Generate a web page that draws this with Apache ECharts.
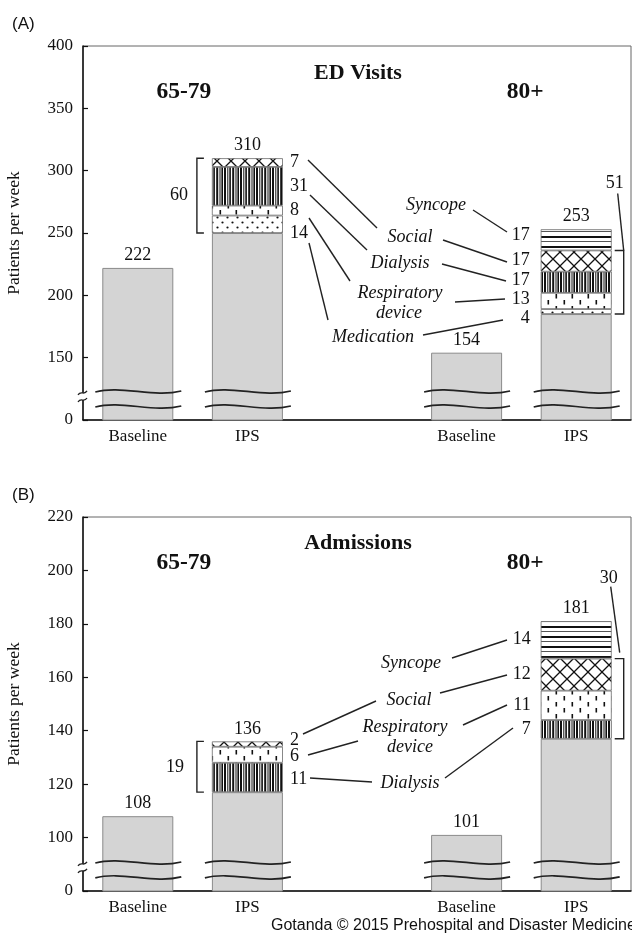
<!DOCTYPE html>
<html>
<head>
<meta charset="utf-8">
<script src="https://cdn.jsdelivr.net/npm/echarts@6/dist/echarts.min.js"></script>
<style>
  html, body { margin: 0; padding: 0; background: #fff; }
  #chart { width: 632px; height: 933px; }
</style>
</head>
<body>
<div id="chart"></div>
<script>
// ---- data -------------------------------------------------------------
const categories = ['Baseline', 'IPS', '', 'Baseline', 'IPS'];
const ageGroups = ['65-79', '80+'];

// (A) ED visits, patients per week
const edBase        = [222, 250, null, 154, 185];
const edMedication  = [null, 14, null, null, 4];
const edRespiratory = [null, 8, null, null, 13];
const edDialysis    = [null, 31, null, null, 17];
const edSocial      = [null, 7, null, null, 17];
const edSyncope     = [null, null, null, null, 17];

// (B) Admissions, patients per week
const admBase        = [108, 117, null, 101, 137];
const admDialysis    = [null, 11, null, null, 7];
const admRespiratory = [null, 6, null, null, 11];
const admSocial      = [null, 2, null, null, 12];
const admSyncope     = [null, null, null, null, 14];

// broken value axes: the lowest tick stands for 0
const edTicks  = { min: 100, max: 400, interval: 50 };
const admTicks = { min: 80, max: 220, interval: 20 };

// ---- styles -----------------------------------------------------------
const SERIF = '"Liberation Serif", "Times New Roman", serif';
const SANS = '"Liberation Sans", Arial, sans-serif';
const INK = '#111';
const BAR_W = 71;

function tile(w, h, draw) {
  const c = document.createElement('canvas');
  c.width = w; c.height = h;
  const ctx = c.getContext('2d');
  ctx.fillStyle = '#fff';
  ctx.fillRect(0, 0, w, h);
  ctx.fillStyle = '#111';
  ctx.strokeStyle = '#111';
  draw(ctx);
  return { image: c, repeat: 'repeat' };
}
const patterns = {
  dots: tile(10, 10, ctx => {
    [[2.5, 2.5], [7.5, 7.5]].forEach(([x, y]) => {
      ctx.beginPath(); ctx.arc(x, y, 1.1, 0, Math.PI * 2); ctx.fill();
    });
  }),
  ticks: tile(16, 12, ctx => {
    ctx.fillRect(3.5, 0, 1.6, 4.5);
    ctx.fillRect(11.5, 6, 1.6, 4.5);
  }),
  stripes: tile(16, 4, ctx => {
    ctx.fillRect(0, 0, 2, 4);
    ctx.fillRect(3.3, 0, 1, 4);
    ctx.fillRect(5.3, 0, 1.6, 4);
    ctx.fillRect(8.2, 0, 2, 4);
    ctx.fillRect(11.5, 0, 1, 4);
    ctx.fillRect(13.4, 0, 1.6, 4);
  }),
  cross: tile(14, 14, ctx => {
    ctx.lineWidth = 1.3;
    ctx.beginPath();
    ctx.moveTo(0, 0); ctx.lineTo(14, 14);
    ctx.moveTo(14, 0); ctx.lineTo(0, 14);
    ctx.stroke();
  }),
  hlines: tile(4, 10, ctx => {
    ctx.fillStyle = '#555';
    ctx.fillRect(0, 1, 4, 1);
    ctx.fillStyle = '#111';
    ctx.fillRect(0, 6, 4, 2);
  })
};

// segment order (bottom to top) and its fill
const edSegments = [
  ['Medication', edMedication, patterns.dots],
  ['Respiratory device', edRespiratory, patterns.ticks],
  ['Dialysis', edDialysis, patterns.stripes],
  ['Social', edSocial, patterns.cross],
  ['Syncope', edSyncope, patterns.hlines]
];
const admSegments = [
  ['Dialysis', admDialysis, patterns.stripes],
  ['Respiratory device', admRespiratory, patterns.ticks],
  ['Social', admSocial, patterns.cross],
  ['Syncope', admSyncope, patterns.hlines]
];
// small vertical nudges so neighbouring numbers do not collide
const nudges = {
  ed: { 'Medication': { 1: 9, 4: 7 }, 'Respiratory device': { 4: -2 }, 'Dialysis': { 4: -2 }, 'Social': { 4: -1 }, 'Syncope': { 4: -5 } },
  adm: { 'Dialysis': { 1: 2 }, 'Respiratory device': { 1: 2 }, 'Social': { 1: -4 }, 'Syncope': { 4: -1 } }
};

function baseSeries(values, idx, stack) {
  return {
    type: 'bar', stack, xAxisIndex: idx, yAxisIndex: idx, barWidth: BAR_W, clip: true,
    itemStyle: { color: '#d4d4d4', borderColor: '#8a8a8a', borderWidth: 1 },
    data: values.map(v => v == null ? '-' : v)
  };
}
function segmentSeries([name, values, fill], idx, stack, nudge) {
  return {
    type: 'bar', name, stack, xAxisIndex: idx, yAxisIndex: idx, barWidth: BAR_W, clip: true,
    itemStyle: { color: fill, borderColor: '#6a6a6a', borderWidth: 0.8 },
    label: { show: false, fontFamily: SERIF, fontSize: 18, color: INK },
    data: values.map((v, i) => v == null ? '-' : {
      value: v,
      label: {
        show: true,
        position: i < 2 ? 'right' : 'left',
        distance: i < 2 ? 7 : (idx === 0 ? 11 : 10),
        offset: [0, (nudge && nudge[i]) || 0]
      }
    })
  };
}
function totals(base, segs) {
  return base.map((b, i) => b == null ? null : b + segs.reduce((s, seg) => s + (seg[1][i] || 0), 0));
}
function totalSeries(tot, idx) {
  return {
    type: 'scatter', xAxisIndex: idx, yAxisIndex: idx, symbolSize: 1,
    itemStyle: { color: 'rgba(0,0,0,0)', opacity: 1 }, silent: true,
    label: { show: true, position: 'top', distance: 3, fontFamily: SERIF, fontSize: 18, color: INK,
      formatter: p => p.value[1] },
    data: tot.map((t, i) => t == null ? null : [i, t]).filter(Boolean)
  };
}

const edTotals = totals(edBase, edSegments);
const admTotals = totals(admBase, admSegments);

function xAxis(idx) {
  return {
    type: 'category', gridIndex: idx, data: categories,
    axisLine: { lineStyle: { color: '#111', width: 1.5 } },
    axisTick: { show: false },
    axisLabel: { fontFamily: SERIF, fontSize: 17, color: INK, margin: 8, interval: 0 }
  };
}
function yAxis(idx, t) {
  return {
    type: 'value', gridIndex: idx, min: t.min, max: t.max, interval: t.interval,
    axisLine: { show: true, lineStyle: { color: '#111', width: 1.5 } },
    axisTick: { show: true, inside: true, length: 5, lineStyle: { color: '#111', width: 1.2 } },
    splitLine: { show: false },
    axisLabel: { fontFamily: SERIF, fontSize: 17, color: INK, margin: 10,
      formatter: v => v === t.min ? '0' : String(v) }
  };
}

const chart = echarts.init(document.getElementById('chart'), null, { renderer: 'canvas' });
chart.setOption({
  animation: false,
  backgroundColor: '#fff',
  grid: [
    { left: 83, right: 1, top: 46, height: 374, show: true, borderColor: '#666', borderWidth: 1 },
    { left: 83, right: 1, top: 517, height: 374, show: true, borderColor: '#666', borderWidth: 1 }
  ],
  xAxis: [xAxis(0), xAxis(1)],
  yAxis: [yAxis(0, edTicks), yAxis(1, admTicks)],
  series: [
    baseSeries(edBase, 0, 'ed'),
    ...edSegments.map(s => segmentSeries(s, 0, 'ed', nudges.ed[s[0]])),
    totalSeries(edTotals, 0),
    baseSeries(admBase, 1, 'adm'),
    ...admSegments.map(s => segmentSeries(s, 1, 'adm', nudges.adm[s[0]])),
    totalSeries(admTotals, 1)
  ]
});

// ---- annotations ------------------------------------------------------
const px = (idx, cat, v) => chart.convertToPixel({ gridIndex: idx }, [cat, v]);
const g = [];
const LINE = { stroke: '#222', lineWidth: 1.4, fill: null };

function text(str, x, y, opts, rotation) {
  const el = { type: 'text', z: 120, x, y, style: Object.assign({
    text: str, x: 0, y: 0, fill: INK, fontFamily: SERIF, fontSize: 18,
    align: 'center', verticalAlign: 'middle' }, opts || {}) };
  if (rotation) el.rotation = rotation;
  g.push(el);
}
function seg(x1, y1, x2, y2) {
  g.push({ type: 'line', z: 110, shape: { x1, y1, x2, y2 }, style: LINE });
}
function sumAt(segs, i, from, to) {
  return segs.slice(from, to).reduce((s, sg) => s + (sg[1][i] || 0), 0);
}

// panel letters, titles, axis names
const BOLD = { fontWeight: 'bold', fontSize: 23.5 };
text('(A)', 12, 24, { fontFamily: SANS, fontSize: 17, align: 'left' });
text('(B)', 12, 495, { fontFamily: SANS, fontSize: 17, align: 'left' });
text('ED Visits', 358, 73, { fontWeight: 'bold', fontSize: 22 });
text('Admissions', 358, 543, { fontWeight: 'bold', fontSize: 22 });
[[0, 92], [1, 563]].forEach(([idx, y]) => {
  text(ageGroups[0], px(idx, 0, edTicks.min)[0] + 46, y, BOLD);
  text(ageGroups[1], px(idx, 4, edTicks.min)[0] - 51, y, BOLD);
});
text('Patients per week', 14, 233, { fontSize: 17.5 }, Math.PI / 2);
text('Patients per week', 14, 704, { fontSize: 17.5 }, Math.PI / 2);
text('Gotanda \u00a9 2015 Prehospital and Disaster Medicine', 271, 926,
  { fontFamily: SANS, fontSize: 16, align: 'left' });

// wavy break marks across the bars and on the value axis
function breaks(idx, vUpper, vLower) {
  [0, 1, 3, 4].forEach(i => {
    const cx = px(idx, i, vUpper)[0];
    const x0 = cx - BAR_W / 2 - 7, x1 = cx + BAR_W / 2 + 8;
    [vUpper, vLower].forEach(v => {
      const y = px(idx, i, v)[1];
      g.push({ type: 'bezierCurve', z: 115,
        shape: { x1: x0, y1: y, cpx1: x0 + (x1 - x0) * 0.3, cpy1: y - 7,
                 cpx2: x0 + (x1 - x0) * 0.68, cpy2: y + 6, x2: x1, y2: y - 1 },
        style: { stroke: '#222', lineWidth: 1.7, fill: null } });
    });
  });
  const axisX = chart.convertToPixel({ gridIndex: idx }, [0, vUpper]) && 83;
  const yA = px(idx, 0, vUpper)[1] + 1, yB = px(idx, 0, vLower)[1] - 7;
  g.push({ type: 'rect', z: 112, shape: { x: axisX - 3, y: yA, width: 6, height: yB - yA },
    style: { fill: '#fff' } });
  [yA, yB].forEach(y => {
    g.push({ type: 'bezierCurve', z: 116,
      shape: { x1: axisX - 5, y1: y + 2, cpx1: axisX - 2, cpy1: y - 3, cpx2: axisX + 1, cpy2: y + 3, x2: axisX + 4, y2: y - 2 },
      style: { stroke: '#222', lineWidth: 1.3, fill: null } });
  });
}
breaks(0, 122.5, 110.4);
breaks(1, 90.5, 84.9);

// brackets grouping the added causes
function bracket(idx, cat, vBottom, vTop, side) {
  const [cx, yb] = px(idx, cat, vBottom);
  const yt = px(idx, cat, vTop)[1];
  let xv, xt;
  if (side === 'left') { xv = cx - BAR_W / 2 - 15; xt = cx - BAR_W / 2 - 8; }
  else { xv = cx + BAR_W / 2 + 12; xt = cx + BAR_W / 2 + 3; }
  g.push({ type: 'polyline', z: 110, shape: { points: [[xt, yt], [xv, yt], [xv, yb], [xt, yb]] }, style: LINE });
  return { xv, yt, yb };
}
// (A) 65-79
{
  const b = bracket(0, 1, edBase[1], edBase[1] + sumAt(edSegments, 1, 0, 4), 'left');
  text(String(sumAt(edSegments, 1, 0, 4)), b.xv - 18, (b.yt + b.yb) / 2);
}
// (A) 80+
{
  const b = bracket(0, 4, edBase[4], edBase[4] + sumAt(edSegments, 4, 0, 4), 'right');
  text(String(sumAt(edSegments, 4, 0, 4)), b.xv - 9, b.yt - 67);
  seg(b.xv - 6, b.yt - 57, b.xv, b.yt);
}
// (B) 65-79
{
  const b = bracket(1, 1, admBase[1], admBase[1] + sumAt(admSegments, 1, 0, 3), 'left');
  text(String(sumAt(admSegments, 1, 0, 3)), b.xv - 22, (b.yt + b.yb) / 2);
}
// (B) 80+
{
  const b = bracket(1, 4, admBase[4], admBase[4] + sumAt(admSegments, 4, 0, 3), 'right');
  text(String(sumAt(admSegments, 4, 0, 3)), b.xv - 15, b.yt - 80);
  seg(b.xv - 13, b.yt - 72, b.xv - 4, b.yt - 6);
}

// cause names with leader lines
const IT = { fontStyle: 'italic', fontSize: 18 };
// (A)
text('Syncope', 436, 205, IT);
text('Social', 410, 237, IT);
text('Dialysis', 400, 263, IT);
text('Respiratory', 400, 293, IT);
text('device', 399, 313, IT);
text('Medication', 373, 337, IT);
seg(308, 160, 377, 228);   // 7  -> Social
seg(310, 195, 367, 250);   // 31 -> Dialysis
seg(309, 218, 350, 281);   // 8  -> Respiratory device
seg(309, 243, 328, 320);   // 14 -> Medication
seg(473, 210, 507, 232);   // Syncope -> 17
seg(443, 240, 507, 262);   // Social -> 17
seg(442, 264, 506, 281);   // Dialysis -> 17
seg(455, 302, 505, 299);   // Respiratory device -> 13
seg(423, 335, 503, 320);   // Medication -> 4
// (B)
text('Syncope', 411, 663, IT);
text('Social', 409, 700, IT);
text('Respiratory', 405, 727, IT);
text('device', 410, 747, IT);
text('Dialysis', 410, 783, IT);
seg(303, 734, 376, 701);   // 2  -> Social
seg(308, 755, 358, 741);   // 6  -> Respiratory device
seg(310, 778, 372, 782);   // 11 -> Dialysis
seg(452, 658, 507, 640);   // Syncope -> 14
seg(440, 693, 507, 675);   // Social -> 12
seg(463, 725, 507, 705);   // Respiratory device -> 11
seg(445, 778, 513, 728);   // Dialysis -> 7

chart.setOption({ graphic: { elements: g } });
</script>
</body>
</html>
